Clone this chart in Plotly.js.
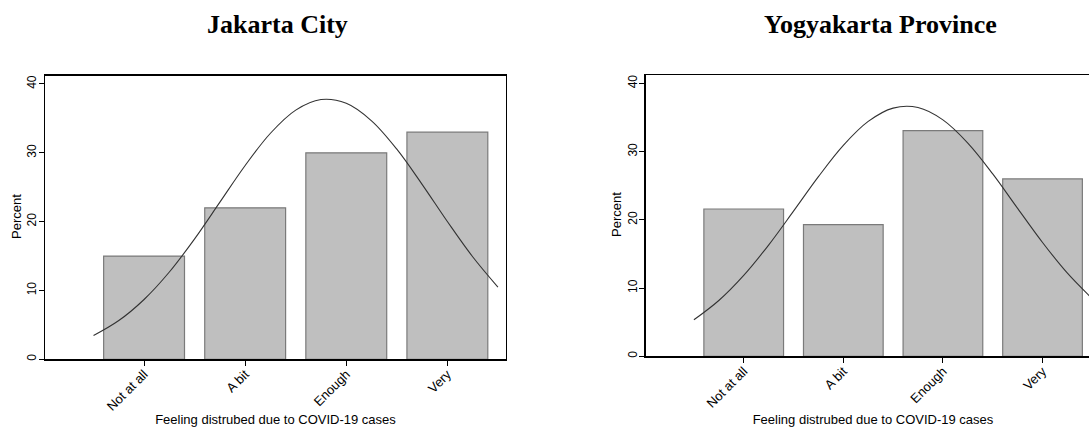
<!DOCTYPE html>
<html>
<head>
<meta charset="utf-8">
<script src="https://cdn.plot.ly/plotly-3.0.1.min.js"></script>
<style>
  html, body { margin: 0; padding: 0; background: #ffffff; overflow: hidden; }
  #chart { width: 1110px; height: 427px; }
</style>
</head>
<body>
<div id="chart"></div>
<script>
// ---- data ----
const categories = ["Not at all", "A bit", "Enough", "Very"];
const catPos = [1, 2, 3, 4];
const jakartaPct = [15, 22, 30, 33];
const yogyaPct = [21.6, 19.3, 33.1, 26.0];

// overlaid normal-curve line, values at these positions
const curveX = [0.5, 0.75, 1.0, 1.25, 1.5, 1.75, 2.0, 2.25, 2.5, 2.75, 3.0, 3.25, 3.5, 3.75, 4.0, 4.25, 4.5];
const jakartaCurve = [3.45, 5.63, 8.69, 12.68, 17.50, 22.83, 28.16, 32.84, 36.20, 37.74, 37.19, 34.65, 30.53, 25.42, 20.02, 14.90, 10.49];
const yogyaCurve = [5.35, 8.18, 11.86, 16.31, 21.28, 26.34, 30.93, 34.44, 36.39, 36.47, 34.66, 31.26, 26.74, 21.69, 16.69, 12.19, 8.44];

const panelTitles = ["Jakarta City", "Yogyakarta Province"];
const xTitle = "Feeling distrubed due to COVID-19 cases";
const yTitle = "Percent";
const yTicks = [0, 10, 20, 30, 40];

// ---- drawing ----
const W = 1110, H = 427;
const font = { family: "Liberation Sans, Arial, sans-serif", size: 13, color: "#000" };
const xTickFont = { family: "Liberation Sans, Arial, sans-serif", size: 13, color: "#000" };
const yTickFont = { family: "Liberation Sans, Arial, sans-serif", size: 12, color: "#000" };
const titleFont = { family: "Liberation Serif, Times New Roman, serif", size: 26, color: "#000" };

function barTrace(vals, xa, ya) {
  return {
    type: "bar", x: catPos, y: vals, width: 0.8, xaxis: xa, yaxis: ya,
    marker: { color: "#bfbfbf", line: { color: "#7a7a7a", width: 1.2 } },
    hoverinfo: "y", showlegend: false
  };
}
function curveTrace(vals, xa, ya) {
  return {
    type: "scatter", mode: "lines", x: curveX, y: vals, xaxis: xa, yaxis: ya,
    line: { color: "#333333", width: 1.1, shape: "spline", smoothing: 1 },
    hoverinfo: "skip", showlegend: false
  };
}

const data = [
  barTrace(jakartaPct, "x", "y"), curveTrace(jakartaCurve, "x", "y"),
  barTrace(yogyaPct, "x2", "y2"), curveTrace(yogyaCurve, "x2", "y2")
];

function xAxis(domain, range, anchor) {
  return {
    domain: domain, range: range, anchor: anchor,
    tickmode: "array", tickvals: catPos, ticktext: categories, tickangle: -45,
    ticks: "outside", ticklen: 5, tickwidth: 1, tickcolor: "#000",
    ticklabelstandoff: -4,
    showline: true, mirror: true, linecolor: "#000", linewidth: 1.3,
    showgrid: false, zeroline: false, tickfont: xTickFont,
    title: { text: xTitle, font: font, standoff: 12 }
  };
}
function yAxis(domain, anchor) {
  return {
    domain: domain, range: [0, 41.2], anchor: anchor,
    tickmode: "array", tickvals: yTicks, tickangle: -90,
    ticks: "outside", ticklen: 5, tickwidth: 1, tickcolor: "#000",
    ticklabelstandoff: -2,
    showline: true, mirror: true, linecolor: "#000", linewidth: 1.3,
    showgrid: false, zeroline: false, tickfont: yTickFont
  };
}

const layout = {
  width: W, height: H,
  margin: { l: 0, r: 0, t: 0, b: 0 },
  paper_bgcolor: "#fff", plot_bgcolor: "#fff",
  bargap: 0.2,
  xaxis: xAxis([45 / W, 506 / W], [0.02, 4.58], "y"),
  yaxis: yAxis([1 - 359.3 / H, 1 - 75.7 / H], "x"),
  xaxis2: xAxis([645.7 / W, 1100.3 / W], [0.016, 4.58], "y2"),
  yaxis2: yAxis([1 - 356.3 / H, 1 - 75.3 / H], "x2"),
  annotations: [
    { text: "<b>" + panelTitles[0] + "</b>", xref: "paper", yref: "paper",
      x: 277 / W, y: 1 - 25 / H, xanchor: "center", yanchor: "middle", showarrow: false,
      font: titleFont },
    { text: "<b>" + panelTitles[1] + "</b>", xref: "paper", yref: "paper",
      x: 880 / W, y: 1 - 25 / H, xanchor: "center", yanchor: "middle", showarrow: false,
      font: titleFont },
    { text: yTitle, xref: "paper", yref: "paper", textangle: -90,
      x: 16 / W, y: 1 - 217 / H, xanchor: "center", yanchor: "middle", showarrow: false,
      font: font },
    { text: yTitle, xref: "paper", yref: "paper", textangle: -90,
      x: 616 / W, y: 1 - 215 / H, xanchor: "center", yanchor: "middle", showarrow: false,
      font: font }
  ]
};

Plotly.newPlot("chart", data, layout, { displayModeBar: false, staticPlot: true });
</script>
</body>
</html>
